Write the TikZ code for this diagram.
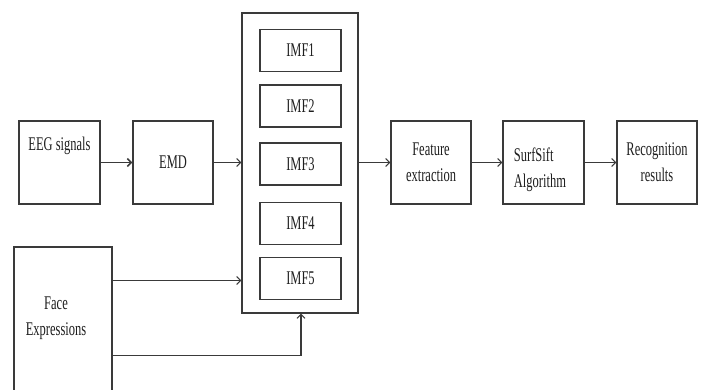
\documentclass[tikz,border=0pt]{standalone}
\usepackage{fontspec}
\setmainfont{Liberation Serif}
\usetikzlibrary{arrows.meta}
\definecolor{linec}{HTML}{3A3A3A}
\definecolor{txtc}{HTML}{1E1E1E}
% narrow, tall lettering used throughout
\newcommand\tl[1]{\scalebox{1}[1.55]{#1}}
\tikzset{
  blk/.style={draw=linec, line width=1.1pt, inner sep=0pt, minimum width=81pt, minimum height=83pt},
  imf/.style={blk, minimum width=81pt, minimum height=42pt, font=\fontsize{12.5}{26}\selectfont, text=txtc},
  lbl/.style={text=txtc, font=\fontsize{12.5}{26}\selectfont, align=center, inner sep=0pt},
  flow/.style={draw=linec, line width=1.1pt, -{Straight Barb[length=4pt,width=8pt]}}
}
\begin{document}
\begin{tikzpicture}[x=1pt, y=-1pt]
  \useasboundingbox (0,0) rectangle (703,389);

  % input blocks
  \node[blk] (eeg) at (59.5,162.5) {};
  \node[lbl] (eegt) at (59.5,146) {\tl{EEG signals}};
  \node[blk, lbl, draw=linec, line width=1.1pt, minimum width=80pt, minimum height=83pt] (emd) at (173,162.5) {\tl{EMD}};
  \node[blk, minimum width=98pt, minimum height=148pt] (face) at (63,321) {};
  \node[lbl] (facet) at (56,318) {\tl{Face}\\\tl{Expressions}};

  % container with the intrinsic mode functions
  \node[blk, minimum width=116pt, minimum height=300pt] (big) at (300,163) {};
  \node[imf] (imf1) at (300.5,50.5) {\tl{IMF1}};
  \node[imf] (imf2) at (300.5,106) {\tl{IMF2}};
  \node[imf] (imf3) at (300.5,164) {\tl{IMF3}};
  \node[imf] (imf4) at (300.5,223.5) {\tl{IMF4}};
  \node[imf] (imf5) at (300.5,278.5) {\tl{IMF5}};

  % processing chain
  \node[blk, lbl, draw=linec, line width=1.1pt, minimum width=80pt, minimum height=83pt] (feat) at (431,162.5) {\tl{Feature}\\\tl{extraction}};
  \node[blk] (surf) at (543.5,162.5) {};
  \node[lbl, align=left] (surft) at (540,170) {\tl{SurfSift}\\\tl{Algorithm}};
  \node[blk, lbl, draw=linec, line width=1.1pt, minimum width=80pt, minimum height=83pt] (rec) at (657,162.5) {\tl{Recognition}\\\tl{results}};

  % connectors
  \draw[flow, line width=1.6pt] (eeg.east) -- (emd.west);
  \draw[flow] (emd.east) -- (emd.east -| big.west);
  \draw[flow] (big.east |- feat.west) -- (feat.west);
  \draw[flow] (feat.east) -- (surf.west);
  \draw[flow] (surf.east) -- (rec.west);
  \coordinate (fa) at ([yshift=-34pt]face.north east);
  \coordinate (fb) at ([yshift=-109pt]face.north east);
  \draw[flow] (fa) -- (fa -| big.west);
  \draw[flow] (fb) -| ([xshift=1pt]big.south);
\end{tikzpicture}
\end{document}
